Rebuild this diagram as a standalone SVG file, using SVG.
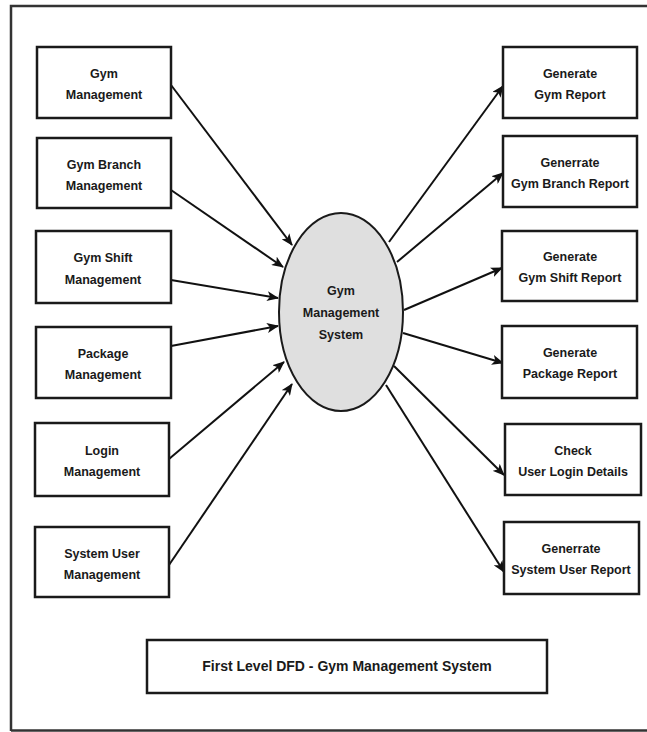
<svg xmlns="http://www.w3.org/2000/svg" width="647" height="732" viewBox="0 0 647 732">
  <style>
    .box { fill: #ffffff; stroke: #1a1a1a; stroke-width: 2.5; }
    .proc { fill: #dfdfdf; stroke: #1a1a1a; stroke-width: 2; }
    .lbl { font-family: "Liberation Sans", Arial, sans-serif; font-weight: bold; font-size: 12.5px; fill: #1a1a1a; text-anchor: middle; }
    .title { font-size: 14px; }
    .flow { stroke: #111111; stroke-width: 2; fill: none; marker-end: url(#arrow); }
  </style>
  <defs>
    <marker id="arrow" viewBox="0 0 12 10" refX="11" refY="5" markerWidth="12" markerHeight="10" markerUnits="userSpaceOnUse" orient="auto">
      <path d="M0,0 L12,5 L0,10 L3,5 Z" fill="#111111"/>
    </marker>
  </defs>

  <rect width="647" height="732" fill="#ffffff"/>
  <!-- outer frame: left, top and bottom edges -->
  <path d="M11,731 L11,6 L647,6" fill="none" stroke="#333333" stroke-width="2.5"/>
  <path d="M11,730.5 L647,730.5" fill="none" stroke="#333333" stroke-width="2.5"/>

  <g id="connectors">
    <line class="flow" x1="171" y1="85" x2="292" y2="245"/>
    <line class="flow" x1="171" y1="190" x2="283" y2="267"/>
    <line class="flow" x1="171" y1="280" x2="278" y2="298"/>
    <line class="flow" x1="171" y1="346" x2="278" y2="326"/>
    <line class="flow" x1="169" y1="459" x2="284" y2="362"/>
    <line class="flow" x1="169" y1="565" x2="292" y2="384"/>

    <line class="flow" x1="389" y1="242" x2="503" y2="86"/>
    <line class="flow" x1="397" y1="262" x2="503" y2="173"/>
    <line class="flow" x1="404" y1="310" x2="502" y2="268"/>
    <line class="flow" x1="403" y1="333" x2="503" y2="363"/>
    <line class="flow" x1="394" y1="366" x2="504" y2="475"/>
    <line class="flow" x1="386" y1="385" x2="504" y2="572"/>
  </g>

  <g id="gym-management-system">
    <ellipse class="proc" cx="341" cy="312" rx="62" ry="99"/>
    <text class="lbl" x="341" y="295">Gym</text>
    <text class="lbl" x="341" y="317">Management</text>
    <text class="lbl" x="341" y="339">System</text>
  </g>

  <g id="gym-management">
    <rect class="box" x="37" y="47" width="134" height="71"/>
    <text class="lbl" x="104" y="78">Gym</text>
    <text class="lbl" x="104" y="99">Management</text>
  </g>
  <g id="gym-branch-management">
    <rect class="box" x="37" y="138" width="134" height="70"/>
    <text class="lbl" x="104" y="169">Gym Branch</text>
    <text class="lbl" x="104" y="190">Management</text>
  </g>
  <g id="gym-shift-management">
    <rect class="box" x="36" y="231" width="135" height="72"/>
    <text class="lbl" x="103" y="262">Gym Shift</text>
    <text class="lbl" x="103" y="284">Management</text>
  </g>
  <g id="package-management">
    <rect class="box" x="36" y="327" width="135" height="71"/>
    <text class="lbl" x="103" y="358">Package</text>
    <text class="lbl" x="103" y="379">Management</text>
  </g>
  <g id="login-management">
    <rect class="box" x="35" y="423" width="134" height="73"/>
    <text class="lbl" x="102" y="455">Login</text>
    <text class="lbl" x="102" y="476">Management</text>
  </g>
  <g id="system-user-management">
    <rect class="box" x="35" y="527" width="134" height="70"/>
    <text class="lbl" x="102" y="558">System User</text>
    <text class="lbl" x="102" y="579">Management</text>
  </g>

  <g id="generate-gym-report">
    <rect class="box" x="503" y="47" width="134" height="71"/>
    <text class="lbl" x="570" y="78">Generate</text>
    <text class="lbl" x="570" y="99">Gym Report</text>
  </g>
  <g id="generate-gym-branch-report">
    <rect class="box" x="503" y="136" width="134" height="71"/>
    <text class="lbl" x="570" y="167">Generrate</text>
    <text class="lbl" x="570" y="188">Gym Branch Report</text>
  </g>
  <g id="generate-gym-shift-report">
    <rect class="box" x="502" y="231" width="135" height="70"/>
    <text class="lbl" x="570" y="261">Generate</text>
    <text class="lbl" x="570" y="282">Gym Shift Report</text>
  </g>
  <g id="generate-package-report">
    <rect class="box" x="502" y="326" width="135" height="72"/>
    <text class="lbl" x="570" y="357">Generate</text>
    <text class="lbl" x="570" y="378">Package Report</text>
  </g>
  <g id="check-user-login-details">
    <rect class="box" x="505" y="424" width="136" height="71"/>
    <text class="lbl" x="573" y="455">Check</text>
    <text class="lbl" x="573" y="476">User Login Details</text>
  </g>
  <g id="generate-system-user-report">
    <rect class="box" x="504" y="522" width="135" height="72"/>
    <text class="lbl" x="571" y="553">Generrate</text>
    <text class="lbl" x="571" y="574">System User Report</text>
  </g>

  <g id="caption">
    <rect class="box" x="147" y="640" width="400" height="53"/>
    <text class="lbl title" x="347" y="671">First Level DFD - Gym Management System</text>
  </g>
</svg>
